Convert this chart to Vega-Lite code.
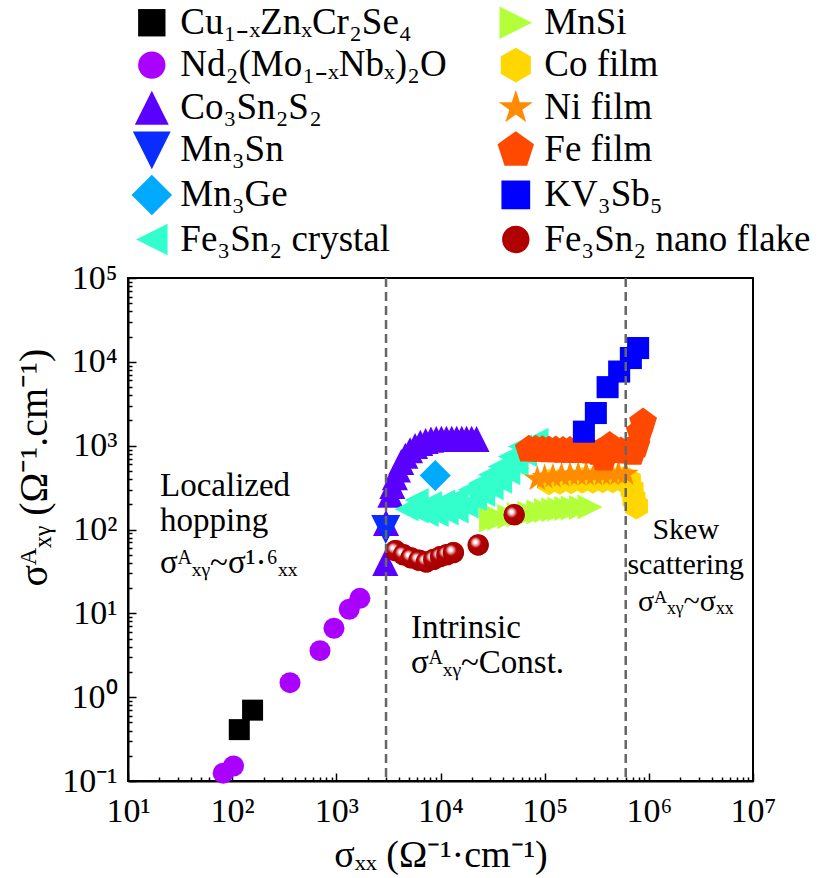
{
  "$schema": "https://vega.github.io/schema/vega-lite/v6.json",
  "width": 625,
  "height": 503,
  "autosize": {"type": "none"},
  "padding": {"left": 128, "top": 278, "right": 86, "bottom": 97},
  "background": "white",
  "config": {
    "font": "Liberation Serif",
    "view": {"stroke": "black", "strokeWidth": 2},
    "axis": {
      "labelFont": "Liberation Serif",
      "titleFont": "Liberation Serif",
      "labelFontSize": 34,
      "titleFontSize": 38,
      "titleFontWeight": "normal",
      "labelColor": "black",
      "titleColor": "black",
      "domainColor": "black",
      "domainWidth": 2,
      "tickColor": "black",
      "tickWidth": 1.5,
      "grid": false,
      "labelOverlap": false,
      "labelFlush": false
    }
  },
  "datasets": {
    "points": [
      {"series": "Cu₁₋ₓZnₓCr₂Se₄", "x": 117, "y": 0.41},
      {"series": "Cu₁₋ₓZnₓCr₂Se₄", "x": 157, "y": 0.70},
      {"series": "Nd₂(Mo₁₋ₓNbₓ)₂O", "x": 82, "y": 0.124},
      {"series": "Nd₂(Mo₁₋ₓNbₓ)₂O", "x": 103, "y": 0.151},
      {"series": "Nd₂(Mo₁₋ₓNbₓ)₂O", "x": 359, "y": 1.49},
      {"series": "Nd₂(Mo₁₋ₓNbₓ)₂O", "x": 697, "y": 3.59},
      {"series": "Nd₂(Mo₁₋ₓNbₓ)₂O", "x": 949, "y": 6.64},
      {"series": "Nd₂(Mo₁₋ₓNbₓ)₂O", "x": 1330, "y": 11.2},
      {"series": "Nd₂(Mo₁₋ₓNbₓ)₂O", "x": 1683, "y": 15.1},
      {"series": "Co₃Sn₂S₂", "x": 2950, "y": 40},
      {"series": "Co₃Sn₂S₂", "x": 3000, "y": 120},
      {"series": "Co₃Sn₂S₂", "x": 3300, "y": 260},
      {"series": "Co₃Sn₂S₂", "x": 3450, "y": 330},
      {"series": "Co₃Sn₂S₂", "x": 3650, "y": 420},
      {"series": "Co₃Sn₂S₂", "x": 3900, "y": 520},
      {"series": "Co₃Sn₂S₂", "x": 4200, "y": 640},
      {"series": "Co₃Sn₂S₂", "x": 4600, "y": 760},
      {"series": "Co₃Sn₂S₂", "x": 5100, "y": 880},
      {"series": "Co₃Sn₂S₂", "x": 5700, "y": 990},
      {"series": "Co₃Sn₂S₂", "x": 6400, "y": 1080},
      {"series": "Co₃Sn₂S₂", "x": 7200, "y": 1140},
      {"series": "Co₃Sn₂S₂", "x": 8100, "y": 1180},
      {"series": "Co₃Sn₂S₂", "x": 9100, "y": 1200},
      {"series": "Co₃Sn₂S₂", "x": 10200, "y": 1210},
      {"series": "Co₃Sn₂S₂", "x": 11400, "y": 1210},
      {"series": "Co₃Sn₂S₂", "x": 12800, "y": 1210},
      {"series": "Co₃Sn₂S₂", "x": 14300, "y": 1210},
      {"series": "Co₃Sn₂S₂", "x": 16000, "y": 1210},
      {"series": "Co₃Sn₂S₂", "x": 17800, "y": 1210},
      {"series": "Co₃Sn₂S₂", "x": 19900, "y": 1210},
      {"series": "Co₃Sn₂S₂", "x": 22200, "y": 1200},
      {"series": "Mn₃Sn", "x": 2980, "y": 100},
      {"series": "Mn₃Ge", "x": 8900, "y": 440},
      {"series": "Fe₃Sn₂ crystal", "x": 4730, "y": 175},
      {"series": "Fe₃Sn₂ crystal", "x": 5900, "y": 164},
      {"series": "Fe₃Sn₂ crystal", "x": 7360, "y": 149},
      {"series": "Fe₃Sn₂ crystal", "x": 9180, "y": 149},
      {"series": "Fe₃Sn₂ crystal", "x": 11450, "y": 156},
      {"series": "Fe₃Sn₂ crystal", "x": 14270, "y": 164},
      {"series": "Fe₃Sn₂ crystal", "x": 17800, "y": 188},
      {"series": "Fe₃Sn₂ crystal", "x": 21400, "y": 225},
      {"series": "Fe₃Sn₂ crystal", "x": 25700, "y": 259},
      {"series": "Fe₃Sn₂ crystal", "x": 30900, "y": 311},
      {"series": "Fe₃Sn₂ crystal", "x": 37200, "y": 373},
      {"series": "Fe₃Sn₂ crystal", "x": 44700, "y": 470},
      {"series": "Fe₃Sn₂ crystal", "x": 53700, "y": 590},
      {"series": "Fe₃Sn₂ crystal", "x": 64600, "y": 776},
      {"series": "Fe₃Sn₂ crystal", "x": 74800, "y": 977},
      {"series": "Fe₃Sn₂ crystal", "x": 83500, "y": 1172},
      {"series": "Fe₃Sn₂ crystal", "x": 5900, "y": 225},
      {"series": "Fe₃Sn₂ crystal", "x": 7900, "y": 206},
      {"series": "Fe₃Sn₂ crystal", "x": 10600, "y": 215},
      {"series": "Fe₃Sn₂ crystal", "x": 14270, "y": 236},
      {"series": "Fe₃Sn₂ crystal", "x": 19100, "y": 297},
      {"series": "Fe₃Sn₂ crystal", "x": 23900, "y": 357},
      {"series": "Fe₃Sn₂ crystal", "x": 29800, "y": 449},
      {"series": "Fe₃Sn₂ crystal", "x": 37200, "y": 563},
      {"series": "Fe₃Sn₂ crystal", "x": 46300, "y": 741},
      {"series": "Fe₃Sn₂ crystal", "x": 57800, "y": 977},
      {"series": "MnSi", "x": 30900, "y": 130},
      {"series": "MnSi", "x": 37000, "y": 136},
      {"series": "MnSi", "x": 46300, "y": 143},
      {"series": "MnSi", "x": 57000, "y": 150},
      {"series": "MnSi", "x": 72000, "y": 156},
      {"series": "MnSi", "x": 88000, "y": 162},
      {"series": "MnSi", "x": 104000, "y": 168},
      {"series": "MnSi", "x": 122000, "y": 172},
      {"series": "MnSi", "x": 140000, "y": 175},
      {"series": "MnSi", "x": 163000, "y": 178},
      {"series": "MnSi", "x": 188000, "y": 180},
      {"series": "MnSi", "x": 225000, "y": 183},
      {"series": "MnSi", "x": 272000, "y": 185},
      {"series": "Co film", "x": 110000, "y": 370},
      {"series": "Co film", "x": 140000, "y": 375},
      {"series": "Co film", "x": 180000, "y": 380},
      {"series": "Co film", "x": 230000, "y": 385},
      {"series": "Co film", "x": 290000, "y": 385},
      {"series": "Co film", "x": 360000, "y": 390},
      {"series": "Co film", "x": 450000, "y": 390},
      {"series": "Co film", "x": 560000, "y": 390},
      {"series": "Co film", "x": 650000, "y": 380},
      {"series": "Co film", "x": 690000, "y": 300},
      {"series": "Co film", "x": 720000, "y": 230},
      {"series": "Co film", "x": 760000, "y": 190},
      {"series": "Ni film", "x": 85000, "y": 400},
      {"series": "Ni film", "x": 100000, "y": 420},
      {"series": "Ni film", "x": 120000, "y": 430},
      {"series": "Ni film", "x": 145000, "y": 440},
      {"series": "Ni film", "x": 175000, "y": 450},
      {"series": "Ni film", "x": 210000, "y": 450},
      {"series": "Ni film", "x": 250000, "y": 455},
      {"series": "Ni film", "x": 300000, "y": 455},
      {"series": "Ni film", "x": 360000, "y": 455},
      {"series": "Ni film", "x": 430000, "y": 460},
      {"series": "Ni film", "x": 510000, "y": 460},
      {"series": "Ni film", "x": 600000, "y": 460},
      {"series": "Fe film", "x": 70500, "y": 900},
      {"series": "Fe film", "x": 82000, "y": 900},
      {"series": "Fe film", "x": 95000, "y": 890},
      {"series": "Fe film", "x": 110000, "y": 880},
      {"series": "Fe film", "x": 128000, "y": 880},
      {"series": "Fe film", "x": 150000, "y": 870},
      {"series": "Fe film", "x": 175000, "y": 870},
      {"series": "Fe film", "x": 205000, "y": 860},
      {"series": "Fe film", "x": 240000, "y": 860},
      {"series": "Fe film", "x": 280000, "y": 850},
      {"series": "Fe film", "x": 330000, "y": 820},
      {"series": "Fe film", "x": 370000, "y": 700},
      {"series": "Fe film", "x": 420000, "y": 1000},
      {"series": "Fe film", "x": 470000, "y": 900},
      {"series": "Fe film", "x": 540000, "y": 860},
      {"series": "Fe film", "x": 620000, "y": 850},
      {"series": "Fe film", "x": 700000, "y": 820},
      {"series": "Fe film", "x": 760000, "y": 1000},
      {"series": "Fe film", "x": 820000, "y": 1450},
      {"series": "Fe film", "x": 880000, "y": 1900},
      {"series": "KV₃Sb₅", "x": 238000, "y": 1470},
      {"series": "KV₃Sb₅", "x": 310000, "y": 2450},
      {"series": "KV₃Sb₅", "x": 402000, "y": 4990},
      {"series": "KV₃Sb₅", "x": 519000, "y": 7660},
      {"series": "KV₃Sb₅", "x": 672000, "y": 11100},
      {"series": "KV₃Sb₅", "x": 789000, "y": 14600},
      {"series": "Fe₃Sn₂ nano flake", "x": 3700, "y": 56},
      {"series": "Fe₃Sn₂ nano flake", "x": 4400, "y": 50},
      {"series": "Fe₃Sn₂ nano flake", "x": 5200, "y": 46},
      {"series": "Fe₃Sn₂ nano flake", "x": 6200, "y": 43},
      {"series": "Fe₃Sn₂ nano flake", "x": 7300, "y": 41},
      {"series": "Fe₃Sn₂ nano flake", "x": 8600, "y": 44},
      {"series": "Fe₃Sn₂ nano flake", "x": 10000, "y": 47.5},
      {"series": "Fe₃Sn₂ nano flake", "x": 11500, "y": 50},
      {"series": "Fe₃Sn₂ nano flake", "x": 13300, "y": 53},
      {"series": "Fe₃Sn₂ nano flake", "x": 23000, "y": 65.5},
      {"series": "Fe₃Sn₂ nano flake", "x": 51000, "y": 150}
    ],
    "boundaries": [{"x": 3000}, {"x": 600000}],
    "notesLeft": [
      {"x": 20.3, "y": 331, "text": "Localized"},
      {"x": 20.3, "y": 127, "text": "hopping"},
      {"x": 20.3, "y": 40, "text": "σᴬₓᵧ~σ¹·⁶ₓₓ"},
      {"x": 5200, "y": 6.7, "text": "Intrinsic"},
      {"x": 5200, "y": 2.56, "text": "σᴬₓᵧ~Const."}
    ],
    "notesCenter": [
      {"x": 2260000, "y": 99, "text": "Skew"},
      {"x": 2260000, "y": 37.8, "text": "scattering"},
      {"x": 2260000, "y": 13.7, "text": "σᴬₓᵧ~σₓₓ"}
    ]
  },
  "layer": [
    {
      "data": {"name": "points"},
      "mark": {"type": "point", "filled": true, "opacity": 1, "strokeWidth": 0, "size": 441},
      "encoding": {
        "x": {
          "field": "x", "type": "quantitative",
          "scale": {"type": "log", "domain": [10, 10000000], "nice": false},
          "axis": {
            "values": [10,20,30,40,50,60,70,80,90,100,200,300,400,500,600,700,800,900,1000,2000,3000,4000,5000,6000,7000,8000,9000,10000,20000,30000,40000,50000,60000,70000,80000,90000,100000,200000,300000,400000,500000,600000,700000,800000,900000,1000000,2000000,3000000,4000000,5000000,6000000,7000000,8000000,9000000,10000000],
            "labelExpr": "datum.value == 10 ? '10¹' : datum.value == 100 ? '10²' : datum.value == 1000 ? '10³' : datum.value == 10000 ? '10⁴' : datum.value == 100000 ? '10⁵' : datum.value == 1000000 ? '10⁶' : datum.value == 10000000 ? '10⁷' : ''",
            "tickSize": {"condition": {"test": "indexof([10,100,1000,10000,100000,1000000,10000000], datum.value) >= 0", "value": -8}, "value": -4},
            "labelPadding": 21,
            "title": "σₓₓ (Ω⁻¹·cm⁻¹)",
            "titleX": 312.5,
            "titleY": 74,
            "titleBaseline": "middle"
          }
        },
        "y": {
          "field": "y", "type": "quantitative",
          "scale": {"type": "log", "domain": [0.1, 100000], "nice": false},
          "axis": {
            "values": [0.1,0.2,0.3,0.4,0.5,0.6,0.7,0.8,0.9,1,2,3,4,5,6,7,8,9,10,20,30,40,50,60,70,80,90,100,200,300,400,500,600,700,800,900,1000,2000,3000,4000,5000,6000,7000,8000,9000,10000,20000,30000,40000,50000,60000,70000,80000,90000,100000],
            "labelExpr": "datum.value == 0.1 ? '10⁻¹' : datum.value == 1 ? '10⁰' : datum.value == 10 ? '10¹' : datum.value == 100 ? '10²' : datum.value == 1000 ? '10³' : datum.value == 10000 ? '10⁴' : datum.value == 100000 ? '10⁵' : ''",
            "tickSize": {"condition": {"test": "indexof([0.1,1,10,100,1000,10000,100000], datum.value) >= 0", "value": -8}, "value": -4},
            "labelPadding": 19,
            "title": "σᴬₓᵧ (Ω⁻¹.cm⁻¹)",
            "titleFontSize": 40,
            "titleX": -94,
            "titleY": 189,
            "titleAngle": -90,
            "titleAlign": "center",
            "titleBaseline": "middle"
          }
        },
        "color": {
          "field": "series", "type": "nominal",
          "scale": {
            "domain": ["Cu₁₋ₓZnₓCr₂Se₄", "Nd₂(Mo₁₋ₓNbₓ)₂O", "Co₃Sn₂S₂", "Mn₃Sn", "Mn₃Ge", "Fe₃Sn₂ crystal", "MnSi", "Co film", "Ni film", "Fe film", "KV₃Sb₅", "Fe₃Sn₂ nano flake"],
            "range": ["#000000", "#aa00ff", "#5a00ff", "#0a2cff", "#00aaff", "#33ffcc", "#b2ff3a", "#ffd700", "#ff8c00", "#ff4800", "#0000ff", "#b00000"]
          },
          "legend": {
            "orient": "none",
            "legendX": 5.3,
            "legendY": -274,
            "columns": 2,
            "title": null,
            "padding": 0,
            "labelFont": "Liberation Serif",
            "labelFontSize": 37,
            "labelColor": "black",
            "labelLimit": 0,
            "labelOffset": 10,
            "rowPadding": 4.6,
            "columnPadding": 50,
            "symbolSize": 750,
            "symbolOpacity": 1,
            "symbolStrokeWidth": 0
          }
        },
        "shape": {
          "field": "series", "type": "nominal",
          "scale": {
            "domain": ["Cu₁₋ₓZnₓCr₂Se₄", "Nd₂(Mo₁₋ₓNbₓ)₂O", "Co₃Sn₂S₂", "Mn₃Sn", "Mn₃Ge", "Fe₃Sn₂ crystal", "MnSi", "Co film", "Ni film", "Fe film", "KV₃Sb₅", "Fe₃Sn₂ nano flake"],
            "range": [
              "M-1,-1L1,-1L1,1L-1,1Z",
              "circle",
              "M0,-1.24L1.24,1.24L-1.24,1.24Z",
              "M-1.38,-1.38L1.38,-1.38L0,1.38Z",
              "M0,-1.48L1.48,0L0,1.48L-1.48,0Z",
              "M-1.15,0L1.15,-1.15L1.15,1.15Z",
              "M1.19,0L-1.19,-1.19L-1.19,1.19Z",
              "M0,-1.27L1.1,-0.635L1.1,0.635L0,1.27L-1.1,0.635L-1.1,-0.635Z",
              "M0,-1.31L0.294,-0.405L1.246,-0.405L0.476,0.155L0.77,1.06L0,0.5L-0.77,1.06L-0.476,0.155L-1.246,-0.405L-0.294,-0.405Z",
              "M0,-1.4L1.331,-0.433L0.823,1.133L-0.823,1.133L-1.331,-0.433Z",
              "M-1.05,-1.05L1.05,-1.05L1.05,1.05L-1.05,1.05Z",
              "circle"
            ]
          }
        }
      }
    },
    {
      "data": {"name": "points"},
      "transform": [{"filter": "datum.series === 'Fe₃Sn₂ nano flake'"}],
      "mark": {
        "type": "point", "filled": true, "opacity": 1, "strokeWidth": 0, "shape": "circle", "size": 452,
        "fill": {"gradient": "radial", "x1": 0.36, "y1": 0.36, "r1": 0, "x2": 0.42, "y2": 0.42, "r2": 0.62, "stops": [{"offset": 0, "color": "#ffffff"}, {"offset": 0.1, "color": "#ffffff"}, {"offset": 0.25, "color": "#e49a9a"}, {"offset": 0.42, "color": "#b40000"}, {"offset": 1, "color": "#a30000"}]}
      },
      "encoding": {
        "x": {"field": "x", "type": "quantitative"},
        "y": {"field": "y", "type": "quantitative"}
      }
    },
    {
      "data": {"name": "notesLeft"},
      "mark": {"type": "text", "align": "left", "baseline": "middle", "font": "Liberation Serif", "fontSize": 33, "color": "black"},
      "encoding": {
        "x": {"field": "x", "type": "quantitative"},
        "y": {"field": "y", "type": "quantitative"},
        "text": {"field": "text"}
      }
    },
    {
      "data": {"name": "notesCenter"},
      "mark": {"type": "text", "align": "center", "baseline": "middle", "font": "Liberation Serif", "fontSize": 30, "color": "black"},
      "encoding": {
        "x": {"field": "x", "type": "quantitative"},
        "y": {"field": "y", "type": "quantitative"},
        "text": {"field": "text"}
      }
    },
    {
      "data": {"name": "boundaries"},
      "mark": {"type": "rule", "color": "#666666", "strokeWidth": 2.5, "strokeDash": [9, 5]},
      "encoding": {
        "x": {"field": "x", "type": "quantitative"}
      }
    }
  ]
}
